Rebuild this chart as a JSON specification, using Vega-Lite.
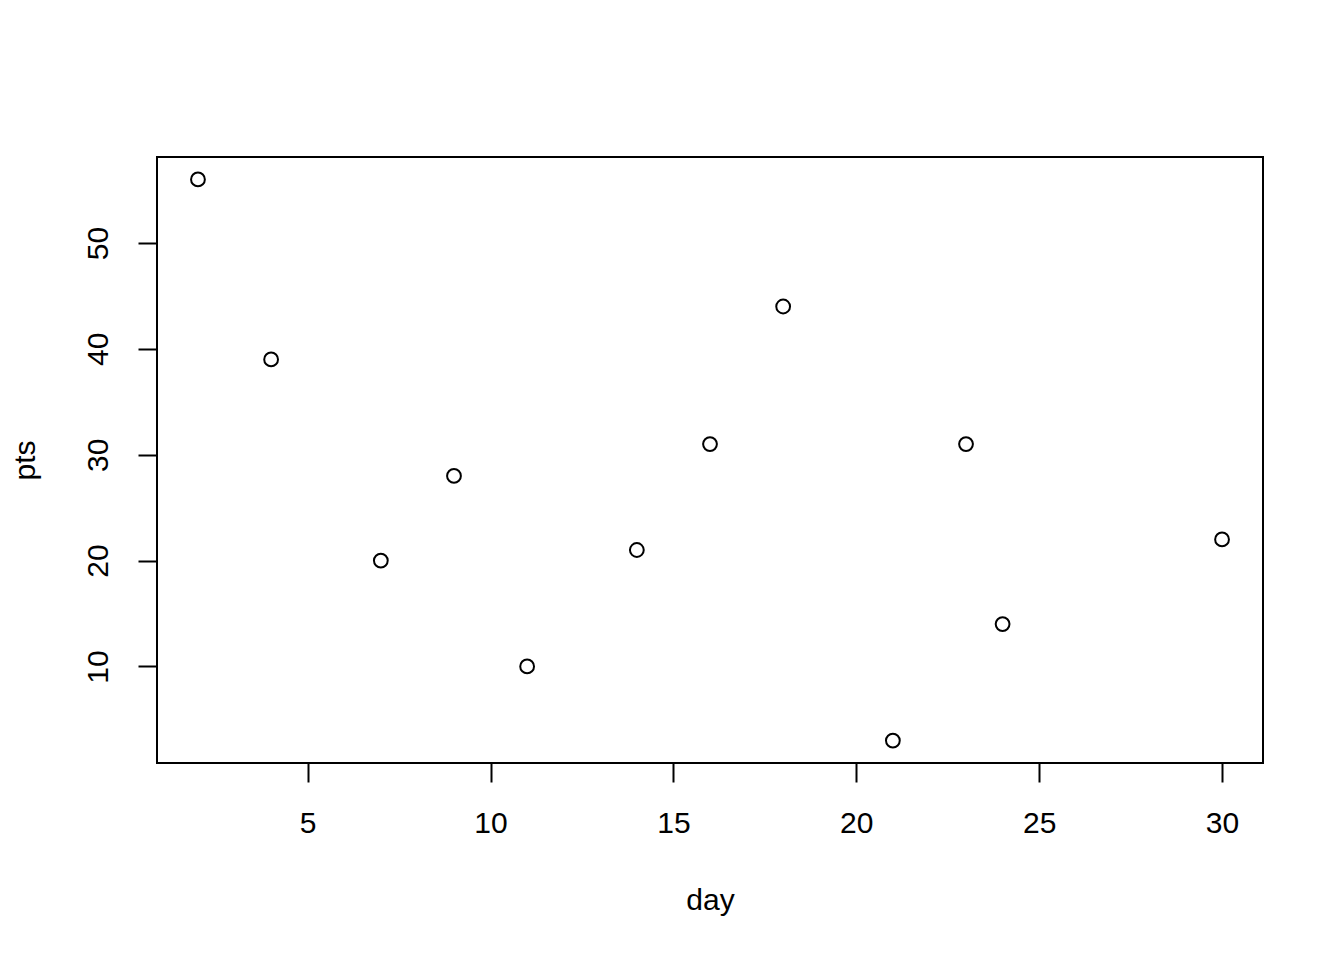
{
  "$schema": "https://vega.github.io/schema/vega-lite/v6.json",
  "width": 1106,
  "height": 606,
  "autosize": {"type": "none"},
  "padding": {"left": 157, "top": 157, "right": 81, "bottom": 197},
  "background": "white",
  "config": {
    "view": {"stroke": "black", "strokeWidth": 2},
    "font": "Liberation Sans",
    "axis": {
      "domain": false,
      "grid": false,
      "ticks": true,
      "tickColor": "black",
      "tickWidth": 2,
      "tickSize": 19,
      "labelFont": "Liberation Sans",
      "labelFontSize": 30,
      "labelColor": "black",
      "titleFont": "Liberation Sans",
      "titleFontSize": 30,
      "titleFontWeight": "normal",
      "titleColor": "black"
    }
  },
  "data": {
    "values": [
      {"day": 2, "pts": 56},
      {"day": 4, "pts": 39},
      {"day": 7, "pts": 20},
      {"day": 9, "pts": 28},
      {"day": 11, "pts": 10},
      {"day": 14, "pts": 21},
      {"day": 16, "pts": 31},
      {"day": 18, "pts": 44},
      {"day": 21, "pts": 3},
      {"day": 23, "pts": 31},
      {"day": 24, "pts": 14},
      {"day": 30, "pts": 22}
    ]
  },
  "mark": {"type": "point", "shape": "circle", "filled": false, "stroke": "black", "strokeWidth": 2, "size": 190, "opacity": 1},
  "encoding": {
    "x": {
      "field": "day",
      "type": "quantitative",
      "scale": {"domain": [0.88, 31.12], "nice": false, "zero": false},
      "axis": {"values": [5, 10, 15, 20, 25, 30], "labelPadding": 26, "title": "day", "titlePadding": 47}
    },
    "y": {
      "field": "pts",
      "type": "quantitative",
      "scale": {"domain": [0.88, 58.12], "nice": false, "zero": false},
      "axis": {"values": [10, 20, 30, 40, 50], "labelAngle": -90, "labelAlign": "center", "labelBaseline": "bottom", "labelPadding": 25, "title": "pts", "titlePadding": 43}
    }
  }
}
